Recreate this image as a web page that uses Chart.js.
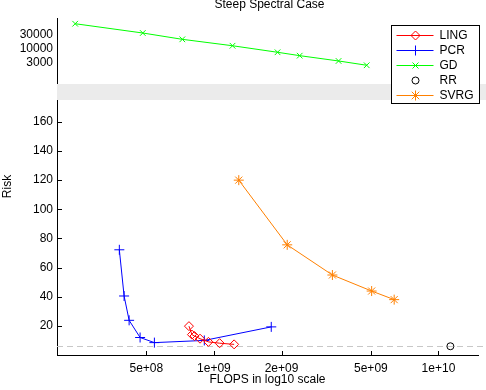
<!DOCTYPE html>
<html lang="en">
<head>
  <meta charset="UTF-8">
  <title>Steep Spectral Case</title>
  <script src="https://cdn.jsdelivr.net/npm/chart.js"></script>
  <style>
    html, body { margin: 0; padding: 0; background: #fff; }
  </style>
</head>
<body>
  <canvas id="riskChart" width="486" height="390"></canvas>

  <script>
    // values
    const lingFlops = [7.74e8, 7.98e8, 8.19e8, 8.67e8, 9.45e8, 1.06e9, 1.23e9];
    const lingRisk  = [19.8, 14.0, 13.0, 11.2, 9.0, 8.1, 7.3];

    const pcrFlops = [3.79e8, 3.98e8, 4.19e8, 4.69e8, 5.43e8, 9.06e8, 1.80e9];
    const pcrRisk  = [72.2, 40.5, 23.8, 12.0, 8.5, 10.0, 19.3];

    const gdFlops = [2.41e8, 4.82e8, 7.23e8, 1.21e9, 1.92e9, 2.41e9, 3.59e9, 4.79e9];
    const gdRisk  = [73500, 34600, 20700, 12300, 7230, 5490, 3570, 2520];

    const rrFlops = [1.13e10];
    const rrRisk  = [6];

    const svrgFlops = [1.29e9, 2.12e9, 3.37e9, 5.04e9, 6.35e9];
    const svrgRisk  = [120, 75.6, 54.9, 43.9, 38.0];

    const xTicks = [5e8, 1e9, 2e9, 5e9, 1e10];
    const topTicks = [3000, 10000, 30000];
    const riskTicks = [20, 40, 60, 80, 100, 120, 140, 160];

    const pairs = (xs, ys) => xs.map((x, i) => ({ x: x, y: ys[i] }));

    function sciLabel(v) {
      const parts = Number(v).toExponential().split('e');
      return parts[0] + 'e' + parts[1][0] + parts[1].slice(1).padStart(2, '0');
    }

    function drawMarker(ctx, style, x, y, r) {
      const d = r * 0.75;
      ctx.beginPath();
      if (style === 'rectRot') {
        ctx.moveTo(x, y - r); ctx.lineTo(x + r, y); ctx.lineTo(x, y + r); ctx.lineTo(x - r, y); ctx.closePath();
      } else if (style === 'cross') {
        ctx.moveTo(x - r, y); ctx.lineTo(x + r, y); ctx.moveTo(x, y - r); ctx.lineTo(x, y + r);
      } else if (style === 'crossRot') {
        ctx.moveTo(x - d, y - d); ctx.lineTo(x + d, y + d); ctx.moveTo(x - d, y + d); ctx.lineTo(x + d, y - d);
      } else if (style === 'circle') {
        ctx.arc(x, y, r, 0, Math.PI * 2);
      } else if (style === 'star') {
        ctx.moveTo(x - r, y); ctx.lineTo(x + r, y); ctx.moveTo(x, y - r); ctx.lineTo(x, y + r);
        ctx.moveTo(x - d, y - d); ctx.lineTo(x + d, y + d); ctx.moveTo(x - d, y + d); ctx.lineTo(x + d, y - d);
      }
      ctx.stroke();
    }

    Chart.defaults.font.family = '"Liberation Sans", Arial, sans-serif';
    Chart.defaults.font.size = 12;
    Chart.defaults.color = '#000';

    const series = [
      { label: 'LING', xs: lingFlops, ys: lingRisk, color: '#ff0000', style: 'rectRot', r: 4.5, line: true, axis: 'y' },
      { label: 'PCR', xs: pcrFlops, ys: pcrRisk, color: '#0000ff', style: 'cross', r: 5, line: true, axis: 'y' },
      { label: 'GD', xs: gdFlops, ys: gdRisk, color: '#00ff00', style: 'crossRot', r: 4, line: true, axis: 'yTop' },
      { label: 'RR', xs: rrFlops, ys: rrRisk, color: '#000000', style: 'circle', r: 3.5, line: false, axis: 'y' },
      { label: 'SVRG', xs: svrgFlops, ys: svrgRisk, color: '#ff8000', style: 'star', r: 5, line: true, axis: 'y' }
    ];

    // gray break band, dashed RR level, inward ticks, legend, labels
    const decorations = {
      id: 'decorations',
      beforeDatasetsDraw(chart) {
        const { ctx, chartArea, scales } = chart;
        const gap = scales.yGap;
        ctx.save();
        ctx.fillStyle = '#ebebeb';
        ctx.fillRect(chartArea.left, gap.top, chart.width - chartArea.left, gap.bottom - gap.top);

        const yy = Math.round(scales.y.getPixelForValue(rrRisk[0])) + 0.5;
        ctx.strokeStyle = '#c8c8c8';
        ctx.lineWidth = 1;
        ctx.setLineDash([6, 4]);
        ctx.beginPath();
        ctx.moveTo(chartArea.left, yy);
        ctx.lineTo(chart.width, yy);
        ctx.stroke();
        ctx.restore();
      },
      afterDraw(chart) {
        const { ctx, chartArea, scales } = chart;
        ctx.save();
        ctx.strokeStyle = '#000';
        ctx.lineWidth = 1;

        // inward tick marks
        ctx.beginPath();
        scales.x.ticks.forEach(t => {
          const px = Math.round(scales.x.getPixelForValue(t.value)) + 0.5;
          ctx.moveTo(px, chartArea.bottom);
          ctx.lineTo(px, chartArea.bottom - 4);
        });
        scales.y.ticks.forEach(t => {
          const py = Math.round(scales.y.getPixelForValue(t.value)) + 0.5;
          ctx.moveTo(chartArea.left, py);
          ctx.lineTo(chartArea.left + 5, py);
        });
        ctx.stroke();

        ctx.fillStyle = '#000';
        ctx.font = '12px "Liberation Sans", Arial, sans-serif';

        // title
        ctx.textAlign = 'center';
        ctx.textBaseline = 'middle';
        ctx.fillText('Steep Spectral Case', (chartArea.left + chartArea.right) / 2 + 2, 5);

        // y label
        ctx.save();
        ctx.translate(8, (chartArea.top + chartArea.bottom) / 2);
        ctx.rotate(-Math.PI / 2);
        ctx.fillText('Risk', 0, 0);
        ctx.restore();

        // legend
        const bx = chart.width - 94.5, by = 25.5, bw = 88, bh = 78;
        ctx.fillStyle = '#fff';
        ctx.fillRect(bx, by, bw, bh);
        ctx.strokeRect(bx, by, bw, bh);
        ctx.textAlign = 'left';
        series.forEach((s, i) => {
          const ry = Math.round(by + 9 + i * 15) + 0.5;
          ctx.strokeStyle = s.color;
          if (s.line) {
            ctx.beginPath();
            ctx.moveTo(bx + 5, ry);
            ctx.lineTo(bx + 42, ry);
            ctx.stroke();
          }
          drawMarker(ctx, s.style, bx + 24, ry, s.r);
          ctx.fillStyle = '#000';
          ctx.fillText(s.label, bx + 48, ry);
        });
        ctx.restore();
      }
    };

    const datasets = series.map(s => ({
      label: s.label,
      data: pairs(s.xs, s.ys),
      yAxisID: s.axis,
      showLine: s.line,
      borderColor: s.color,
      backgroundColor: s.color,
      borderWidth: 1,
      pointStyle: s.style,
      pointRadius: s.r,
      pointHoverRadius: s.r,
      pointBorderColor: s.color,
      pointBackgroundColor: 'transparent',
      pointBorderWidth: 1,
      tension: 0
    }));

    const plainGrid = { drawOnChartArea: false, drawTicks: false };

    new Chart(document.getElementById('riskChart').getContext('2d'), {
      type: 'scatter',
      data: { datasets: datasets },
      plugins: [decorations],
      options: {
        responsive: false,
        animation: false,
        events: [],
        layout: { padding: { top: 18, right: 8, left: 0, bottom: 0 } },
        plugins: {
          legend: { display: false },
          tooltip: { enabled: false },
          title: { display: false }
        },
        scales: {
          x: {
            type: 'logarithmic',
            min: 2e8,
            max: 1.5e10,
            afterBuildTicks: axis => { axis.ticks = xTicks.map(v => ({ value: v })); },
            ticks: { callback: v => sciLabel(v), padding: 6, autoSkip: false, maxRotation: 0 },
            grid: plainGrid,
            border: { color: '#000' },
            title: { display: true, text: 'FLOPS in log10 scale', padding: { top: 0, bottom: 3 } },
            afterFit: axis => { axis.height = 35; }
          },
          yTop: {
            type: 'logarithmic',
            position: 'left',
            stack: 'risk',
            stackWeight: 66,
            weight: 2,
            min: 550,
            max: 117000,
            afterBuildTicks: axis => { axis.ticks = topTicks.map(v => ({ value: v })); },
            ticks: { callback: v => String(v), padding: 4 },
            grid: plainGrid,
            border: { color: '#000' },
            afterFit: axis => { axis.width = 57; }
          },
          yGap: {
            type: 'linear',
            position: 'left',
            stack: 'risk',
            stackWeight: 16,
            weight: 1,
            min: 0,
            max: 1,
            display: false
          },
          y: {
            type: 'linear',
            position: 'left',
            stack: 'risk',
            stackWeight: 255,
            weight: 0,
            min: 0,
            max: 175,
            afterBuildTicks: axis => { axis.ticks = riskTicks.map(v => ({ value: v })); },
            ticks: { callback: v => String(v), padding: 4 },
            grid: plainGrid,
            border: { color: '#000' },
            afterFit: axis => { axis.width = 57; }
          }
        }
      }
    });
  </script>
</body>
</html>
